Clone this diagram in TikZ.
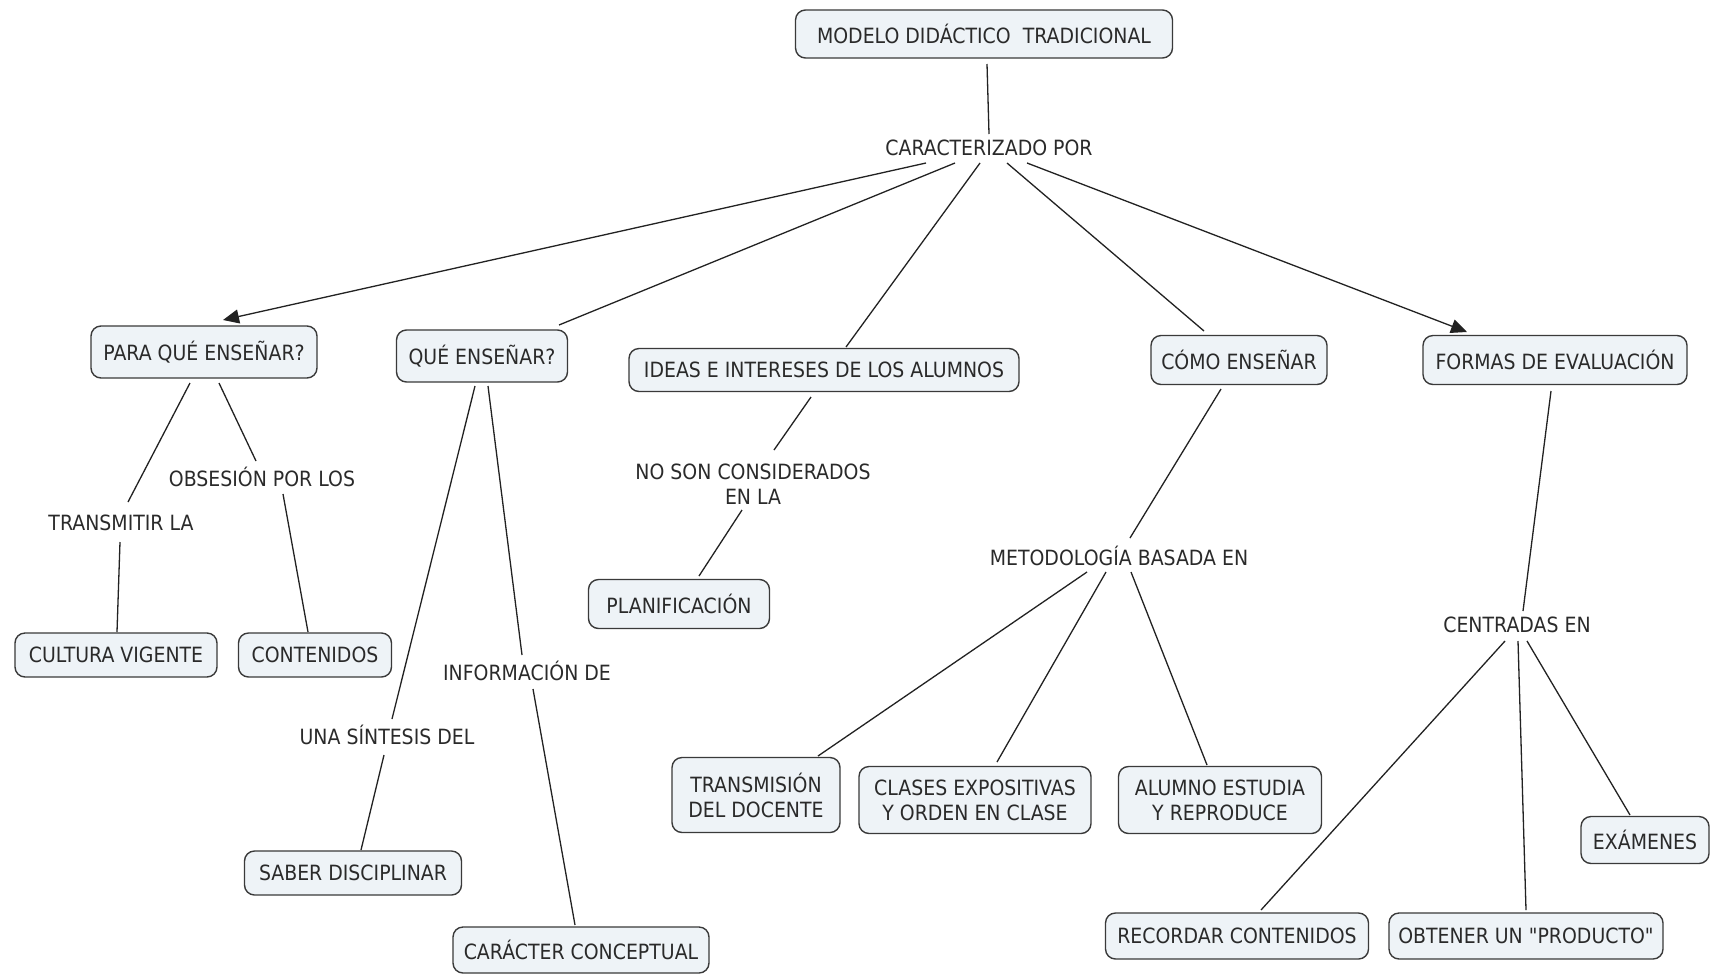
\documentclass[tikz,border=0pt]{standalone}
\usepackage{fontspec}
\setmainfont{DejaVu Sans}[FakeStretch=0.9, Ligatures=TeXOff]
\usetikzlibrary{arrows.meta}
\definecolor{boxfill}{HTML}{EEF3F7}
\definecolor{boxline}{HTML}{3A3A3A}
\definecolor{txt}{HTML}{2A2A2A}
\definecolor{linkc}{HTML}{222222}
\begin{document}
\begin{tikzpicture}[x=1pt,y=-1pt,
  every node/.style={font=\fontsize{21}{25}\selectfont, text=txt},
  cbox/.style={draw=boxline, line width=1.4pt, fill=boxfill, rounded corners=10pt,
    align=center, inner xsep=6pt, inner ysep=4pt, minimum height=46pt},
  lbl/.style={align=center, inner sep=1pt},
  link/.style={draw=linkc, line width=1.3pt},
  arr/.style={link, -{Triangle[length=16pt,width=14pt]}}]
\fill[white] (0,0) rectangle (1720,975);
\useasboundingbox (0,0) rectangle (1720,975);

% boxes
\node[cbox, minimum width=377pt, minimum height=48pt] (top) at (984,34) {MODELO DIDÁCTICO\ \ TRADICIONAL};
\node[cbox, minimum width=226pt, minimum height=52pt] (para) at (204,352) {PARA QUÉ ENSEÑAR?};
\node[cbox, minimum width=171pt, minimum height=52pt] (que) at (482,356) {QUÉ ENSEÑAR?};
\node[cbox, minimum width=390pt, minimum height=43pt] (ideas) at (824,370) {IDEAS E INTERESES DE LOS ALUMNOS};
\node[cbox, minimum width=176pt, minimum height=49pt] (como) at (1239,360) {CÓMO ENSEÑAR};
\node[cbox, minimum width=264pt, minimum height=49pt] (formas) at (1555,360) {FORMAS DE EVALUACIÓN};
\node[cbox, minimum width=202pt, minimum height=44pt] (cultura) at (116,655) {CULTURA VIGENTE};
\node[cbox, minimum width=153pt, minimum height=44pt] (conten) at (315,655) {CONTENIDOS};
\node[cbox, minimum width=181pt, minimum height=49pt] (planif) at (679,604) {PLANIFICACIÓN};
\node[cbox, minimum width=217pt, minimum height=44pt] (saber) at (353,873) {SABER DISCIPLINAR};
\node[cbox, minimum width=256pt, minimum height=46pt] (caracter) at (581,950) {CARÁCTER CONCEPTUAL};
\node[cbox, minimum width=168pt, minimum height=75pt] (transm) at (756,795) {TRANSMISIÓN\\DEL DOCENTE};
\node[cbox, minimum width=232pt, minimum height=67pt] (clases) at (975,800) {CLASES EXPOSITIVAS\\Y ORDEN EN CLASE};
\node[cbox, minimum width=203pt, minimum height=67pt] (alumno) at (1220,800) {ALUMNO ESTUDIA\\Y REPRODUCE};
\node[cbox, minimum width=128pt, minimum height=47pt] (examenes) at (1645,840) {EXÁMENES};
\node[cbox, minimum width=263pt, minimum height=46pt] (recordar) at (1237,936) {RECORDAR CONTENIDOS};
\node[cbox, minimum width=274pt, minimum height=46pt] (obtener) at (1526,936) {OBTENER UN "PRODUCTO"};

% linking phrases
\node[lbl] (caract) at (989,148) {CARACTERIZADO POR};
\node[lbl] (transmitir) at (121,523) {TRANSMITIR LA};
\node[lbl] (obsesion) at (262,477) {OBSESIÓN POR LOS};
\node[lbl] (noson) at (753,484) {NO SON CONSIDERADOS\\EN LA};
\node[lbl] (info) at (527,671) {INFORMACIÓN DE};
\node[lbl] (sintesis) at (387,735) {UNA SÍNTESIS DEL};
\node[lbl] (metod) at (1119,556) {METODOLOGÍA BASADA EN};
\node[lbl] (centradas) at (1517,625) {CENTRADAS EN};

% connectors
\path[link] ([shift={(3,30)}]top.center) -- ([shift={(0,-14)}]caract.center);
\path[arr] ([shift={(-63,15)}]caract.center) -- ([shift={(19,-32)}]para.center);
\path[link] ([shift={(-34,15)}]caract.center) -- ([shift={(77,-31)}]que.center);
\path[link] ([shift={(-9,15)}]caract.center) -- ([shift={(22,-23)}]ideas.center);
\path[link] ([shift={(18,15)}]caract.center) -- ([shift={(-35,-29)}]como.center);
\path[arr] ([shift={(38,15)}]caract.center) -- ([shift={(-88,-28)}]formas.center);

\path[link] ([shift={(-14,31)}]para.center) -- ([shift={(7,-21)}]transmitir.center);
\path[link] ([shift={(-1,19)}]transmitir.center) -- ([shift={(1,-23)}]cultura.center);
\path[link] ([shift={(15,31)}]para.center) -- ([shift={(-6,-16)}]obsesion.center);
\path[link] ([shift={(21,17)}]obsesion.center) -- ([shift={(-7,-23)}]conten.center);

\path[link] ([shift={(-7,30)}]que.center) -- ([shift={(5,-16)}]sintesis.center);
\path[link] ([shift={(-3,20)}]sintesis.center) -- ([shift={(8,-23)}]saber.center);
\path[link] ([shift={(6,30)}]que.center) -- ([shift={(-5,-16)}]info.center);
\path[link] ([shift={(6,18)}]info.center) -- ([shift={(-6,-25)}]caracter.center);

\path[link] ([shift={(-13,27)}]ideas.center) -- ([shift={(21,-34)}]noson.center);
\path[link] ([shift={(-11,26)}]noson.center) -- ([shift={(20,-28)}]planif.center);

\path[link] ([shift={(-18,29)}]como.center) -- ([shift={(11,-18)}]metod.center);
\path[link] ([shift={(-32,16)}]metod.center) -- ([shift={(62,-39)}]transm.center);
\path[link] ([shift={(-13,16)}]metod.center) -- ([shift={(22,-38)}]clases.center);
\path[link] ([shift={(12,16)}]metod.center) -- ([shift={(-13,-35)}]alumno.center);

\path[link] ([shift={(-4,31)}]formas.center) -- ([shift={(6,-14)}]centradas.center);
\path[link] ([shift={(-12,16)}]centradas.center) -- ([shift={(24,-26)}]recordar.center);
\path[link] ([shift={(1,16)}]centradas.center) -- ([shift={(0,-26)}]obtener.center);
\path[link] ([shift={(10,16)}]centradas.center) -- ([shift={(-15,-25)}]examenes.center);
\end{tikzpicture}
\end{document}
